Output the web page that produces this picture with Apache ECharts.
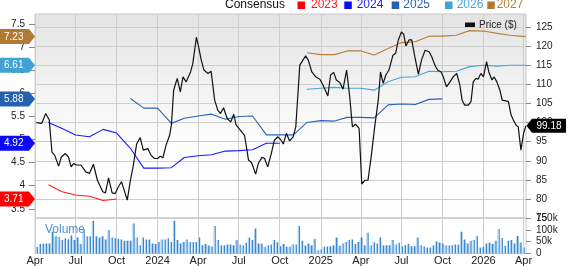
<!DOCTYPE html>
<html><head><meta charset="utf-8">
<script src="https://cdn.jsdelivr.net/npm/echarts@6/dist/echarts.min.js"></script>
<style>html,body{margin:0;padding:0;background:#fff}#c{width:568px;height:266px}</style>
</head><body><div id="c"></div>
<script>
// ---------------- data ----------------
const priceDates = ['2023-04-04','2023-04-16','2023-04-25','2023-05-03','2023-05-09','2023-05-15','2023-05-24','2023-05-30','2023-06-08','2023-06-15','2023-06-21','2023-06-27','2023-07-03','2023-07-13','2023-07-24','2023-08-01','2023-08-10','2023-08-19','2023-08-31','2023-09-06','2023-09-13','2023-09-21','2023-09-28','2023-10-05','2023-10-12','2023-10-18','2023-10-25','2023-11-01','2023-11-07','2023-11-15','2023-11-23','2023-11-30','2023-12-10','2023-12-17','2023-12-25','2024-01-01','2024-01-07','2024-01-13','2024-01-20','2024-01-28','2024-02-01','2024-02-06','2024-02-14','2024-02-21','2024-02-27','2024-03-05','2024-03-15','2024-03-20','2024-03-28','2024-04-02','2024-04-08','2024-04-14','2024-04-23','2024-04-30','2024-05-08','2024-05-15','2024-05-21','2024-05-28','2024-06-05','2024-06-13','2024-06-20','2024-06-25','2024-07-05','2024-07-14','2024-07-23','2024-07-30','2024-08-08','2024-08-14','2024-08-22','2024-08-28','2024-09-04','2024-09-12','2024-09-19','2024-09-27','2024-10-04','2024-10-09','2024-10-16','2024-10-23','2024-10-31','2024-11-06','2024-11-15','2024-11-22','2024-11-28','2024-12-04','2024-12-12','2024-12-21','2024-12-30','2025-01-06','2025-01-17','2025-01-23','2025-01-30','2025-02-05','2025-02-13','2025-02-20','2025-02-28','2025-03-07','2025-03-13','2025-03-20','2025-03-28','2025-04-03','2025-04-10','2025-04-17','2025-04-25','2025-05-02','2025-05-10','2025-05-15','2025-05-21','2025-05-27','2025-06-03','2025-06-12','2025-06-18','2025-06-24','2025-07-01','2025-07-06','2025-07-11','2025-07-18','2025-07-24','2025-07-31','2025-08-08','2025-08-15','2025-08-23','2025-09-01','2025-09-07','2025-09-14','2025-09-20','2025-09-28','2025-10-03','2025-10-10','2025-10-18','2025-10-25','2025-11-02','2025-11-09','2025-11-14','2025-11-20','2025-11-28','2025-12-04','2025-12-09','2025-12-15','2025-12-20','2025-12-26','2026-01-01','2026-01-04','2026-01-08','2026-01-13','2026-01-20','2026-01-25','2026-01-31','2026-02-07','2026-02-12','2026-02-20','2026-02-26','2026-03-04','2026-03-09','2026-03-15','2026-03-20','2026-03-26','2026-04-01','2026-04-06'];
const priceValues = [100.0,99.8,102.4,100.7,92.3,91.5,88.6,91.0,91.9,91.0,88.4,89.3,88.9,88.9,87.1,86.7,89.1,84.9,81.9,81.6,85.5,81.6,81.4,83.2,84.5,82.3,79.7,84.9,88.4,94.4,96.1,92.8,93.2,91.5,90.6,90.6,91.2,90.8,94.1,96.7,99.4,108.5,111.6,108.1,112.0,110.7,113.3,115.5,122.4,119.9,116.4,113.8,112.9,113.5,105.9,103.3,102.4,103.9,101.1,100.2,102.2,99.4,98.0,96.7,90.2,89.5,86.5,89.3,90.9,90.6,88.4,91.9,95.4,96.3,95.4,94.4,97.2,95.2,96.3,98.9,115.1,116.4,117.5,116.4,113.3,112.0,111.4,109.9,107.0,112.5,113.2,111.2,110.5,108.8,113.8,106.8,98.9,99.6,98.5,83.9,84.9,84.9,91.9,98.9,105.9,113.3,110.3,112.5,113.8,117.7,118.2,121.7,123.8,123.2,120.1,121.7,121.7,117.3,112.7,116.4,119.0,118.6,117.3,115.1,113.8,113.3,112.0,109.4,110.7,112.0,112.9,109.9,105.9,104.6,104.6,105.5,110.7,111.6,111.4,112.9,112.0,113.8,116.0,113.3,111.2,112.0,110.7,108.5,105.9,105.7,105.5,102.0,100.7,99.4,98.9,92.8,97.2,99.18];

const eps2023Dates = ['2023-05-01','2023-06-01','2023-07-01','2023-08-01','2023-09-01','2023-10-01'];
const eps2023 = [4.02,3.87,3.80,3.77,3.68,3.71];
const eps2024Dates = ['2023-05-01','2023-06-01','2023-07-01','2023-08-01','2023-09-01','2023-10-01','2023-11-01','2023-12-01','2024-01-01','2024-02-01','2024-03-01','2024-04-01','2024-05-01','2024-06-01','2024-07-01','2024-08-01','2024-09-01','2024-10-01'];
const eps2024 = [5.37,5.24,5.10,5.06,5.22,5.14,4.81,4.38,4.38,4.39,4.61,4.65,4.67,4.75,4.76,4.78,4.92,4.92];
const eps2025Dates = ['2023-11-01','2023-12-01','2024-01-01','2024-02-01','2024-03-01','2024-04-01','2024-05-01','2024-06-01','2024-07-01','2024-08-01','2024-09-01','2024-10-01','2024-11-01','2024-12-01','2025-01-01','2025-02-01','2025-03-01','2025-04-01','2025-05-01','2025-06-01','2025-07-01','2025-08-01','2025-09-01','2025-10-01'];
const eps2025 = [5.89,5.68,5.68,5.35,5.46,5.51,5.55,5.44,5.50,5.51,5.10,5.10,5.10,5.37,5.41,5.40,5.48,5.48,5.47,5.75,5.77,5.76,5.87,5.88];
const eps2026Dates = ['2024-12-01','2025-01-01','2025-02-01','2025-03-01','2025-04-01','2025-05-01','2025-06-01','2025-07-01','2025-08-01','2025-09-01','2025-10-01','2025-11-01','2025-12-01','2026-01-01','2026-02-01','2026-03-01','2026-04-06'];
const eps2026 = [6.09,6.11,6.13,6.11,6.11,6.07,6.25,6.35,6.36,6.48,6.47,6.48,6.58,6.61,6.59,6.61,6.61];
const eps2027Dates = eps2026Dates;
const eps2027 = [6.88,6.84,6.84,6.92,6.92,6.83,6.97,7.10,7.12,7.24,7.24,7.26,7.36,7.35,7.30,7.26,7.23];

const volumeStart = '2023-04-05'; // weekly bars
const volumeValues = [28,40,42,42,42,92,73,71,57,64,60,76,57,68,40,99,73,73,138,73,68,73,59,99,68,64,62,59,54,54,54,127,68,35,68,59,59,42,40,49,59,59,64,49,138,57,42,49,59,49,49,49,
68,35,40,34,31,116,57,35,35,38,38,35,57,38,35,45,68,57,106,42,42,28,35,38,57,48,31,40,28,28,38,38,116,54,34,42,35,62,14,17,28,30,31,35,68,33,42,49,57,59,40,49,68,35,88,35,48,42,68,35,35,35,57,38,
45,31,35,40,31,31,68,35,31,25,25,34,51,47,42,35,35,35,38,38,92,59,42,54,57,74,25,28,42,45,40,54,103,66,33,54,57,42,74,47,25];

const quarterDates = ['2023-04-01','2023-07-01','2023-10-01','2024-01-01','2024-04-01','2024-07-01','2024-10-01','2025-01-01','2025-04-01','2025-07-01','2025-10-01','2026-01-01','2026-04-01'];
const quarterLabels = ['Apr','Jul','Oct','2024','Apr','Jul','Oct','2025','Apr','Jul','Oct','2026','Apr'];
const priceTicks = [75,80,85,90,95,100,105,110,115,120,125];
const epsTicks = [3.5,4,4.5,5,5.5,6,6.5,7,7.5];
const volumeTicks = [0,50,100,150];
const volumeTickLabels = ['0','50k','100k','150k'];

const seriesNames = ['2023','2024','2025','2026','2027'];
const seriesColors = ['#ff1a1a','#1a1aff','#2a64b4','#44a6d6','#b5803a'];
const tagColors = ['#ff0000','#0a0af5','#2262b0','#3ea2d4','#b07a32'];

// ---------------- chart ----------------
const FONT = '"Liberation Sans", Arial, sans-serif';
const ts = s => Date.parse(s + 'T00:00:00Z');
const xMin = ts('2023-04-01');
const xMax = ts('2026-04-06') + 10 * 3600e3;
const qTs = quarterDates.map(ts);
const qLabelOf = v => { const i = qTs.indexOf(v); return i >= 0 ? quarterLabels[i] : ''; };
const pair = (d, v) => d.map((s, i) => [ts(s), v[i]]);
const epsDates = [eps2023Dates, eps2024Dates, eps2025Dates, eps2026Dates, eps2027Dates];
const epsVals = [eps2023, eps2024, eps2025, eps2026, eps2027];
const volStartTs = ts(volumeStart);
const volData = volumeValues.map((v, i) => [volStartTs + i * 7 * 86400e3, v]);

const chart = echarts.init(document.getElementById('c'), null, {renderer: 'canvas'});
const gridLine = {show: true, lineStyle: {color: '#cdcdcd', width: 1}};
const option = {
  animation: false,
  grid: [
    {left: 35, right: 42, top: 14, height: 204, show: true, outerBoundsMode: 'none',
     backgroundColor: {type: 'linear', x: 0, y: 0, x2: 0, y2: 1, colorStops: [{offset: 0, color: '#e3e3e3'}, {offset: 0.6, color: '#fcfcfc'}, {offset: 1, color: '#ffffff'}]},
     borderColor: '#c8c8c8', borderWidth: 1},
    {left: 35, right: 42, top: 218, height: 35.5, show: true, outerBoundsMode: 'none', backgroundColor: '#fff', borderColor: '#c8c8c8', borderWidth: 1}
  ],
  xAxis: [
    {type: 'value', gridIndex: 0, min: xMin, max: xMax, axisLine: {show: false},
     axisTick: {show: false, customValues: qTs}, axisLabel: {show: false, customValues: qTs}, splitLine: gridLine},
    {type: 'value', gridIndex: 1, min: xMin, max: xMax, axisLine: {show: false},
     axisTick: {show: false, customValues: qTs},
     axisLabel: {customValues: qTs, formatter: qLabelOf, margin: 2, fontSize: 11, color: '#222', fontFamily: FONT},
     splitLine: gridLine}
  ],
  yAxis: [
    {type: 'value', gridIndex: 0, position: 'right', min: 75, max: 128.5, axisLine: {show: false},
     axisTick: {show: true, length: 5, customValues: priceTicks, lineStyle: {color: '#888'}},
     axisLabel: {customValues: priceTicks, margin: 10, fontSize: 10, color: '#222', fontFamily: FONT},
     splitLine: gridLine},
    {type: 'value', gridIndex: 0, position: 'left', min: 3.3, max: 7.72, axisLine: {show: false},
     axisTick: {show: true, length: 6, customValues: epsTicks, lineStyle: {color: '#888'}},
     axisLabel: {customValues: epsTicks, margin: 10, fontSize: 10, color: '#222', fontFamily: FONT},
     splitLine: {show: false}},
    {type: 'value', gridIndex: 1, position: 'right', min: 0, max: 150, axisLine: {show: false},
     axisTick: {show: true, length: 5, customValues: volumeTicks, lineStyle: {color: '#888'}},
     axisLabel: {customValues: volumeTicks, formatter: v => volumeTickLabels[volumeTicks.indexOf(v)], margin: 10, fontSize: 10, color: '#222', fontFamily: FONT},
     splitLine: {show: false}}
  ],
  series: [
    ...seriesNames.map((n, k) => ({
      name: n, type: 'line', xAxisIndex: 0, yAxisIndex: 1, data: pair(epsDates[k], epsVals[k]),
      showSymbol: false, symbol: 'none', lineStyle: {color: seriesColors[k], width: 1.1}, z: 3
    })),
    {name: 'Price ($)', type: 'line', xAxisIndex: 0, yAxisIndex: 0, data: pair(priceDates, priceValues),
     showSymbol: false, symbol: 'none', lineStyle: {color: '#111', width: 1.2}, z: 4},
    {name: 'Volume', type: 'bar', xAxisIndex: 1, yAxisIndex: 2, data: volData, barWidth: 2.3,
     itemStyle: {color: {type: 'linear', x: 0, y: 0, x2: 1, y2: 0, colorStops: [{offset: 0, color: '#a8cff2'}, {offset: 0.45, color: '#a8cff2'}, {offset: 0.55, color: '#3b87cc'}, {offset: 1, color: '#3b87cc'}]}}}
  ]
};
chart.setOption(option);

// tags and legends (positioned through the axes)
const g = [];
epsVals.forEach((vals, k) => {
  const v = vals[vals.length - 1];
  const y = chart.convertToPixel({yAxisIndex: 1}, v);
  g.push({type: 'polygon', z: 100, shape: {points: [[0, y - 7.5], [29, y - 7.5], [35, y], [29, y + 7.5], [0, y + 7.5]]}, style: {fill: tagColors[k]}});
  g.push({type: 'text', z: 101, style: {text: v.toFixed(2), x: 4, y: y + 0.5, fill: '#fff', font: '10px ' + FONT, verticalAlign: 'middle'}});
});
const lastPrice = priceValues[priceValues.length - 1];
const py = chart.convertToPixel({yAxisIndex: 0}, lastPrice);
g.push({type: 'polygon', z: 100, shape: {points: [[526.5, py], [532, py - 7], [566, py - 7], [566, py + 7], [532, py + 7]]}, style: {fill: '#000'}});
g.push({type: 'text', z: 101, style: {text: lastPrice.toFixed(2), x: 536.5, y: py + 0.5, fill: '#fff', font: '10px ' + FONT, verticalAlign: 'middle'}});
// price legend
g.push({type: 'rect', z: 100, shape: {x: 465, y: 22.5, width: 10, height: 4.5}, style: {fill: '#111'}});
g.push({type: 'text', z: 100, style: {text: 'Price ($)', x: 479, y: 25, fill: '#222', font: '10px ' + FONT, verticalAlign: 'middle'}});
// volume label
g.push({type: 'text', z: 100, style: {text: 'Volume', x: 45, y: 229.5, fill: '#4a92d2', font: '12px ' + FONT, verticalAlign: 'middle'}});
// consensus legend
g.push({type: 'text', z: 100, style: {text: 'Consensus', x: 225, y: 5, fill: '#111', font: '12px ' + FONT, verticalAlign: 'middle'}});
const legX = [[297.5, 311], [344.3, 356.7], [391.7, 403.3], [445, 456.7], [487.3, 496.7]];
seriesNames.forEach((n, k) => {
  g.push({type: 'rect', z: 100, shape: {x: legX[k][0], y: 1.5, width: 7.5, height: 7.5}, style: {fill: tagColors[k]}});
  g.push({type: 'text', z: 100, style: {text: n, x: legX[k][1], y: 5, fill: seriesColors[k], font: '12px ' + FONT, verticalAlign: 'middle'}});
});
chart.setOption({graphic: g});
</script>
</body></html>
